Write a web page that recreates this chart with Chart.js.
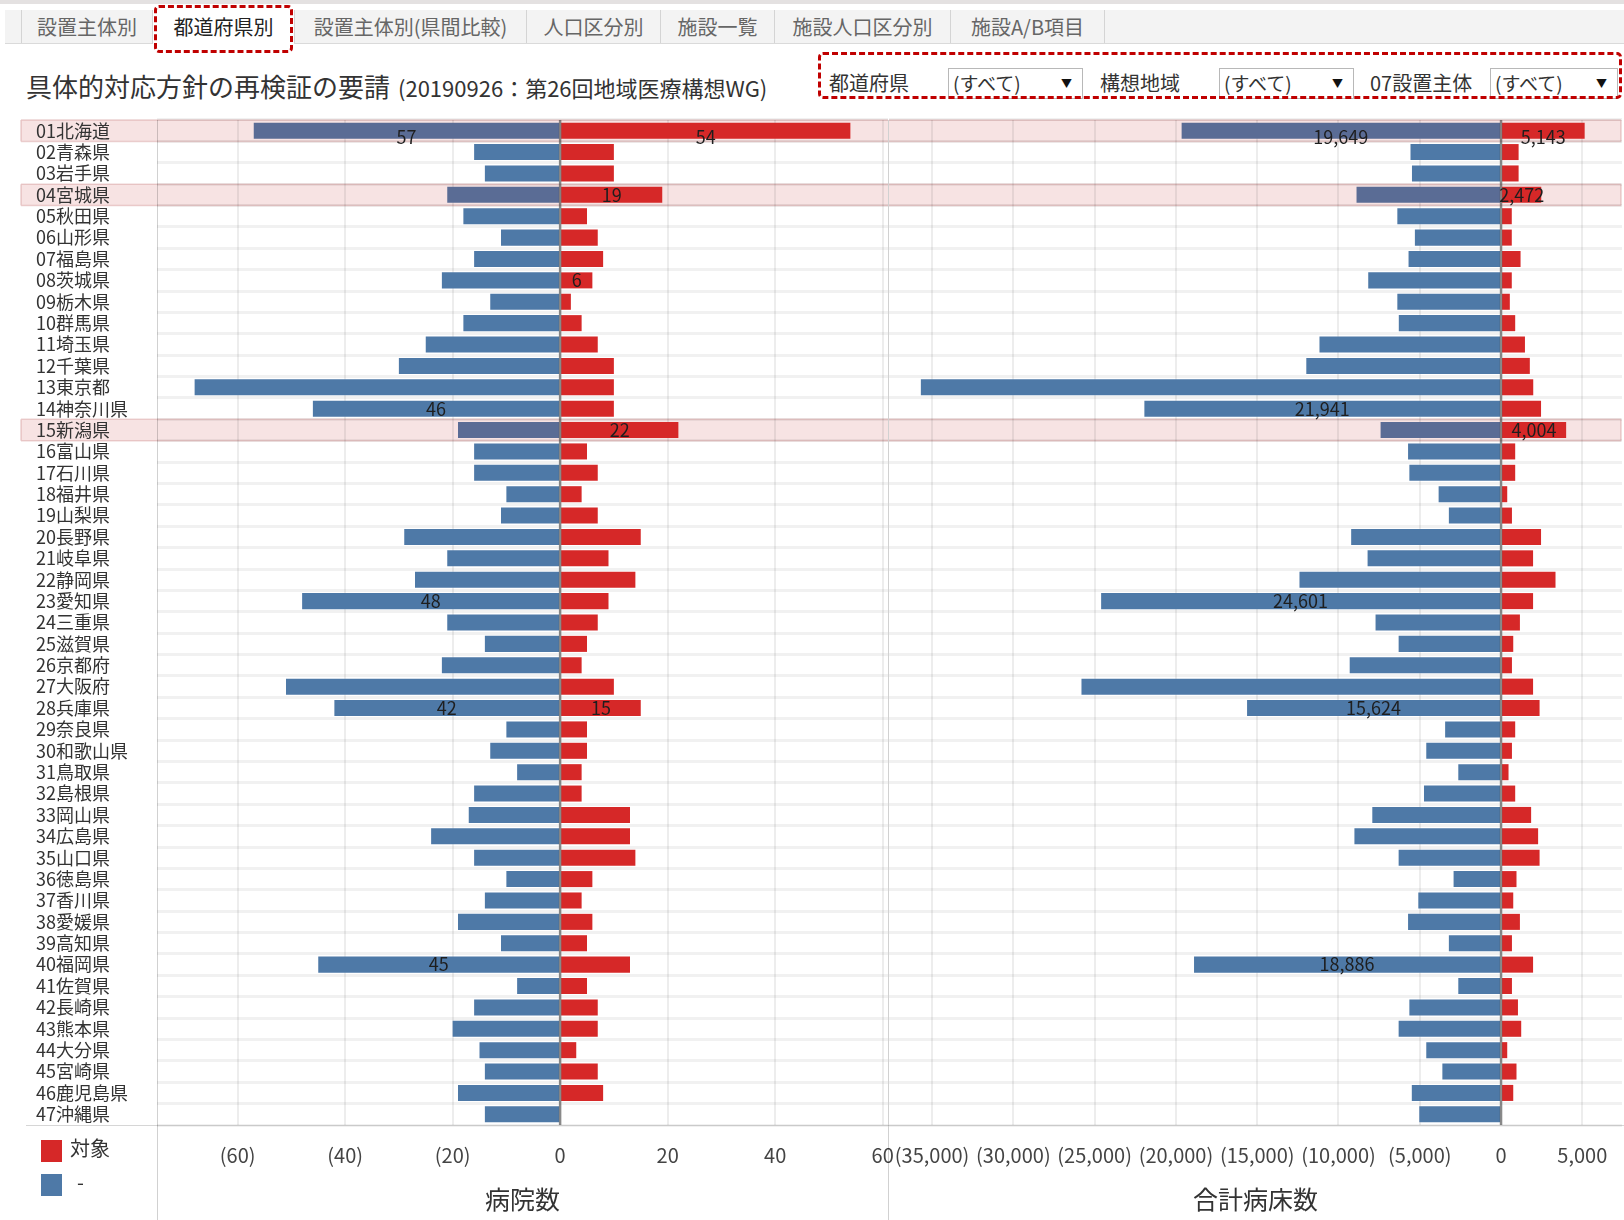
<!DOCTYPE html>
<html lang="ja">
<head>
<meta charset="utf-8">
<title>都道府県別</title>
<script src="https://cdn.jsdelivr.net/npm/chart.js@4.4.1/dist/chart.umd.min.js"></script>
<style>
  html, body { margin: 0; padding: 0; background: #fff; }
  body {
    width: 1624px; height: 1220px; position: relative; overflow: hidden;
    font-family: "Noto Sans CJK JP", "Noto Sans", sans-serif; color: #333;
  }
  .abs { position: absolute; }
  #topstrip { left: 0; top: 0; width: 1624px; height: 4px; background: #e4e1e1; }
  #tabbar { left: 5px; top: 10px; width: 1619px; height: 33px; background: #f3f3f3; border-bottom: 1px solid #dadada; }
  .tab {
    position: absolute; top: 10px; height: 33px; line-height: 33px; font-size: 20px;
    color: #666; text-align: center; border-left: 1px solid #d4d4d4; box-sizing: border-box; white-space: nowrap;
  }
  .tab.active { background: #fff; color: #222; height: 34px; }
  .dash { position: absolute; border: 3px dashed #c00000; border-radius: 5px; box-sizing: border-box; z-index: 5; }
  #title { left: 26px; top: 68px; height: 36px; line-height: 36px; white-space: nowrap; color: #333; }
  #title .big { font-size: 26px; }
  #title .small { font-size: 22px; margin-left: 8px; }
  .flabel { position: absolute; top: 68px; height: 30px; line-height: 30px; font-size: 20px; color: #333; white-space: nowrap; }
  .drop {
    position: absolute; top: 68px; height: 31px; border: 1px solid #b8b8b8; background: #fff;
    box-sizing: border-box; font-size: 19px; line-height: 28px; padding-left: 4px; color: #333;
  }
  .drop .arrow { position: absolute; right: 10px; top: 0; font-size: 11px; color: #111; }
  canvas { position: absolute; }
  .vline { position: absolute; width: 1px; background: rgba(0,0,0,0.18); z-index: 3; }
  .hline { position: absolute; height: 1px; background: rgba(0,0,0,0.16); z-index: 3; }
  .swatch { position: absolute; width: 21px; height: 22px; }
  .ltext { position: absolute; font-size: 20px; line-height: 24px; color: #333; }
</style>
</head>
<body>
<div id="topstrip" class="abs"></div>
<div id="tabbar" class="abs"></div>
<div class="tab" style="left:21px;width:131px;">設置主体別</div>
<div class="tab active" style="left:152px;width:142px;">都道府県別</div>
<div class="tab" style="left:294px;width:232px;">設置主体別(県間比較)</div>
<div class="tab" style="left:526px;width:134px;">人口区分別</div>
<div class="tab" style="left:660px;width:114px;">施設一覧</div>
<div class="tab" style="left:774px;width:176px;">施設人口区分別</div>
<div class="tab" style="left:950px;width:155px;border-right:1px solid #d4d4d4;">施設A/B項目</div>
<div class="dash" style="left:154px;top:5px;width:139px;height:48px;"></div>

<div id="title" class="abs"><span class="big">具体的対応方針の再検証の要請</span><span class="small">(20190926：第26回地域医療構想WG)</span></div>

<div class="dash" style="left:818px;top:52px;width:804px;height:47px;"></div>
<div class="flabel" style="left:829px;">都道府県</div>
<div class="drop" style="left:948px;width:135px;">(すべて)<span class="arrow">▼</span></div>
<div class="flabel" style="left:1100px;">構想地域</div>
<div class="drop" style="left:1219px;width:135px;">(すべて)<span class="arrow">▼</span></div>
<div class="flabel" style="left:1370px;">07設置主体</div>
<div class="drop" style="left:1490px;width:128px;">(すべて)<span class="arrow">▼</span></div>

<canvas id="hospChart" width="920" height="1120" style="left:0;top:100px;"></canvas>
<canvas id="bedChart" width="755" height="1120" style="left:873px;top:100px;"></canvas>

<div class="vline" style="left:157px;top:120px;height:1100px;"></div>
<div class="vline" style="left:888px;top:120px;height:1100px;"></div>
<div class="hline" style="left:26px;top:1125px;width:1598px;"></div>

<div class="swatch" style="left:41px;top:1140px;background:#d62828;"></div>
<div class="ltext" style="left:70px;top:1136px;">対象</div>
<div class="swatch" style="left:41px;top:1174px;background:#4e79a7;"></div>
<div class="ltext" style="left:77px;top:1170px;">-</div>

<script>
// prefectures, top to bottom
const prefectures = [
  '01北海道','02青森県','03岩手県','04宮城県','05秋田県','06山形県','07福島県','08茨城県',
  '09栃木県','10群馬県','11埼玉県','12千葉県','13東京都','14神奈川県','15新潟県','16富山県',
  '17石川県','18福井県','19山梨県','20長野県','21岐阜県','22静岡県','23愛知県','24三重県',
  '25滋賀県','26京都府','27大阪府','28兵庫県','29奈良県','30和歌山県','31鳥取県','32島根県',
  '33岡山県','34広島県','35山口県','36徳島県','37香川県','38愛媛県','39高知県','40福岡県',
  '41佐賀県','42長崎県','43熊本県','44大分県','45宮崎県','46鹿児島県','47沖縄県'
];

// 病院数 (対象 = red, right side / "-" = blue, left side)
const hospitalsTarget = [54,10,10,19,5,7,8,6,2,4,7,10,10,10,22,5,7,4,7,15,9,14,9,7,5,4,10,15,5,5,4,4,13,13,14,6,4,6,5,13,5,7,7,3,7,8,0];
const hospitalsOther  = [57,16,14,21,18,11,16,22,13,18,25,30,68,46,19,16,16,10,11,29,21,27,48,21,14,22,51,42,10,13,8,16,17,24,16,10,14,19,11,45,8,16,20,15,14,19,14];

// 合計病床数
const bedsTarget = [5143,1080,1080,2472,660,660,1200,660,540,870,1470,1770,1980,2460,4004,870,870,380,670,2460,1970,3350,1970,1160,750,670,1970,2370,870,670,460,870,1850,2280,2370,950,750,1160,670,1970,670,1040,1240,380,950,750,0];
const bedsOther  = [19649,5570,5480,8890,6380,5300,5690,8170,6380,6290,11170,11980,35690,21941,7410,5720,5640,3840,3210,9220,8210,12400,24601,7720,6300,9310,25810,15624,3440,4600,2630,4740,7920,9020,6300,2920,5090,5720,3210,18886,2630,5640,6300,4600,3610,5490,5030];

// highlighted (selected) rows
const highlightRows = [0, 3, 14];

// rows whose bars carry a value label
const hospTargetLabelRows = [0, 3, 7, 14, 27];
const hospOtherLabelRows  = [0, 13, 22, 27, 39];
const bedTargetLabelRows  = [0, 3, 14];
const bedOtherLabelRows   = [0, 13, 22, 27, 39];

// axis ranges and tick values
const hospRange = { min: -75, max: 61 };
const bedRange  = { min: -37650, max: 7440 };
const hospTicks = [-60, -40, -20, 0, 20, 40, 60];
const bedTicks  = [-35000, -30000, -25000, -20000, -15000, -10000, -5000, 0, 5000];

const RED = '#d62828';
const BLUE = '#4e79a7';
const BLUE_HL = '#5a6c95';
const FONT = '"Noto Sans CJK JP", "Noto Sans", sans-serif';

Chart.defaults.font.family = FONT;

const plainNum = v => String(v);
const commaNum = v => v.toLocaleString('en-US');
const withParens = fmt => v => v < 0 ? '(' + fmt(-v) + ')' : fmt(v);

// pink band behind the selected rows (one band split across both charts)
const bandPlugin = {
  id: 'bands',
  beforeDraw(chart, args, opts) {
    const {ctx, chartArea, scales} = chart;
    const y = scales.y;
    const h = (chartArea.bottom - chartArea.top) / prefectures.length;
    const left = opts.left != null ? opts.left : chartArea.left;
    const right = chartArea.right - (opts.trimRight || 0);
    ctx.save();
    highlightRows.forEach(i => {
      const top = y.getPixelForValue(i) - h / 2;
      ctx.fillStyle = '#f7e3e3';
      ctx.fillRect(left, top, right - left, h);
      ctx.strokeStyle = 'rgba(200,130,130,0.35)';
      ctx.lineWidth = 1.5;
      ctx.beginPath();
      ctx.moveTo(left, top); ctx.lineTo(right, top);
      ctx.moveTo(left, top + h); ctx.lineTo(right, top + h);
      if (opts.edge === 'left') { ctx.moveTo(left, top); ctx.lineTo(left, top + h); }
      if (opts.edge === 'right') { ctx.moveTo(right, top); ctx.lineTo(right, top + h); }
      ctx.stroke();
    });
    ctx.restore();
  }
};

// zero line on top of the bars, then the value labels
const overlayPlugin = {
  id: 'overlay',
  afterDatasetsDraw(chart, args, opts) {
    const {ctx, chartArea, scales} = chart;
    const x0 = scales.x.getPixelForValue(0);
    ctx.save();
    ctx.strokeStyle = 'rgba(70,70,70,0.6)';
    ctx.lineWidth = 2.5;
    ctx.beginPath();
    ctx.moveTo(x0, chartArea.top);
    ctx.lineTo(x0, chartArea.bottom);
    ctx.stroke();

    ctx.font = '18px ' + FONT;
    ctx.fillStyle = '#1e1e1e';
    ctx.textAlign = 'center';
    ctx.textBaseline = 'middle';
    opts.labelRows.forEach((rows, di) => {
      const meta = chart.getDatasetMeta(di);
      rows.forEach(i => {
        const bar = meta.data[i].getProps(['x', 'y', 'base'], true);
        const v = chart.data.datasets[di].data[i];
        const cy = bar.y + (i === 0 ? 6 : 0);   // first row label sits a bit lower
        ctx.fillText(opts.format(Math.abs(v)), (bar.x + bar.base) / 2, cy);
      });
    });
    ctx.restore();
  }
};

function makeChart(id, c) {
  return new Chart(document.getElementById(id), {
    type: 'bar',
    data: {
      labels: prefectures,
      datasets: [
        {
          label: '対象',
          data: c.target,
          backgroundColor: RED,
          barPercentage: 0.75,
          categoryPercentage: 1
        },
        {
          label: '-',
          data: c.other.map(v => -v),
          backgroundColor: prefectures.map((_, i) => highlightRows.includes(i) ? BLUE_HL : BLUE),
          barPercentage: 0.75,
          categoryPercentage: 1
        }
      ]
    },
    options: {
      indexAxis: 'y',
      responsive: false,
      animation: false,
      layout: { padding: c.padding },
      plugins: {
        legend: { display: false },
        tooltip: { enabled: false },
        bands: c.bands,
        overlay: { labelRows: c.labelRows, format: c.fmt }
      },
      scales: {
        x: {
          stacked: true,
          min: c.range.min,
          max: c.range.max,
          afterBuildTicks: s => { s.ticks = c.ticks.map(v => ({ value: v })); },
          ticks: {
            autoSkip: false,
            maxRotation: 0,
            padding: 18,
            color: '#444',
            font: { size: 20 },
            callback: withParens(c.fmt)
          },
          grid: { color: 'rgba(0,0,0,0.07)', lineWidth: 2, drawTicks: false },
          border: { display: false },
          title: {
            display: true,
            text: c.title,
            color: '#333',
            font: { size: 25 },
            padding: { top: 0, bottom: 6 }
          },
          afterFit: s => { s.height = 95; }
        },
        y: {
          stacked: true,
          ticks: {
            display: c.showNames,
            autoSkip: false,
            crossAlign: 'far',
            padding: 0,
            color: '#333',
            font: { size: 18 }
          },
          grid: { color: 'rgba(0,0,0,0.055)', lineWidth: 3, drawTicks: false },
          border: { display: false },
          afterFit: s => { s.width = c.yWidth; }
        }
      }
    },
    plugins: [bandPlugin, overlayPlugin]
  });
}

makeChart('hospChart', {
  target: hospitalsTarget,
  other: hospitalsOther,
  range: hospRange,
  ticks: hospTicks,
  fmt: plainNum,
  title: '病院数',
  showNames: true,
  yWidth: 121,
  padding: { left: 36, right: 32, top: 20, bottom: 0 },
  bands: { left: 21, edge: 'left' },
  labelRows: [hospTargetLabelRows, hospOtherLabelRows]
});

makeChart('bedChart', {
  target: bedsTarget,
  other: bedsOther,
  range: bedRange,
  ticks: bedTicks,
  fmt: commaNum,
  title: '合計病床数',
  showNames: false,
  yWidth: 0,
  padding: { left: 16, right: 6, top: 20, bottom: 0 },
  bands: { trimRight: 1, edge: 'right' },
  labelRows: [bedTargetLabelRows, bedOtherLabelRows]
});
</script>
</body>
</html>
